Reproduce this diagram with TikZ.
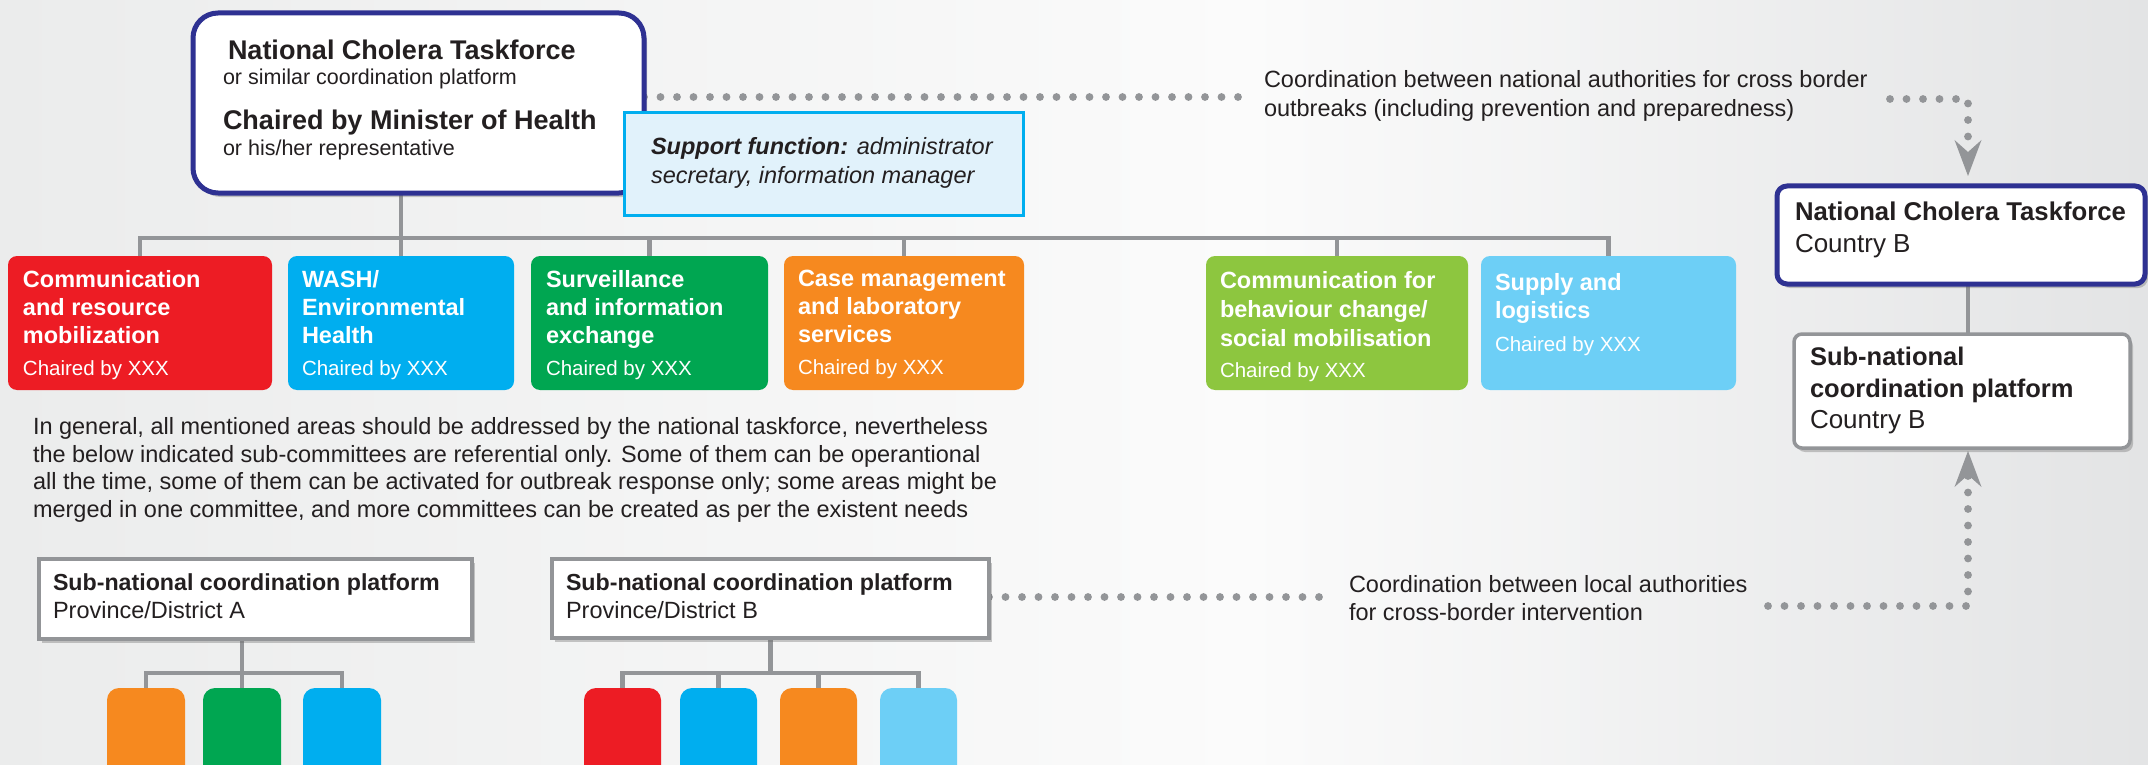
\documentclass[tikz,border=0pt]{standalone}
\usepackage{fontspec}
\setmainfont{Liberation Sans}
\usetikzlibrary{arrows.meta,shadows}
\definecolor{navy}{HTML}{2E3192}
\definecolor{treec}{HTML}{939598}
\definecolor{ink}{HTML}{231F20}
\definecolor{cRed}{HTML}{ED1C24}
\definecolor{cCyan}{HTML}{00AEEF}
\definecolor{cGreen}{HTML}{00A651}
\definecolor{cOrange}{HTML}{F6891F}
\definecolor{cLime}{HTML}{8DC63F}
\definecolor{cSky}{HTML}{6DCFF6}
\definecolor{supFill}{HTML}{E1F2FB}
\definecolor{bgL}{HTML}{EBECEC}
\definecolor{bgM}{HTML}{FBFBFB}
\definecolor{bgR}{HTML}{E3E4E5}
\pgfdeclarehorizontalshading{bgshade}{100bp}{color(0bp)=(bgL); color(25bp)=(bgL); color(54bp)=(bgM); color(75bp)=(bgR); color(100bp)=(bgR)}
\pgfdeclarelayer{back}
\pgfsetlayers{back,main}
\begin{document}
\begin{tikzpicture}[x=1pt,y=-1pt,
  box/.style={draw, anchor=north west, inner sep=0pt, outer sep=0pt},
  shd/.style={drop shadow={shadow xshift=3pt, shadow yshift=-4pt, opacity=0.35, fill=black!60}},
  navybox/.style={box, draw=navy, line width=5pt, fill=white, shd},
  greybox/.style={box, draw=treec, line width=3.5pt, fill=white, shd},
  cbox/.style={box, draw=none, rounded corners=9pt, minimum height=134pt},
  sbox/.style={box, draw=none, rounded corners=12pt, minimum height=110pt},
  treeline/.style={draw=treec, line width=4.5pt},
  dots/.style={draw=treec, line width=7.8pt, line cap=round, dash pattern=on 0pt off 16.5pt},
  tip/.style={-{Stealth[length=36pt, width=27pt, inset=12pt, line width=0pt, fill=treec]}},
  lbl/.style={anchor=base west, inner sep=0pt, outer sep=0pt, text=ink},
  fReg/.style={font=\fontsize{23.5}{28}\selectfont},
  fBold/.style={font=\bfseries\fontsize{23.5}{28}\selectfont},
  ctitle/.style={lbl, text=white, font=\bfseries\fontsize{23.5}{28}\selectfont},
  cchair/.style={lbl, text=white, font=\fontsize{20.5}{24}\selectfont},
]
\useasboundingbox (0,0) rectangle (2148,765);
\begin{pgfonlayer}{back}
\shade[shading=bgshade] (0,0) rectangle (2148,765);
\end{pgfonlayer}

% coordinates
\coordinate (busY) at (0,238);
\coordinate (barY) at (0,673);
\coordinate (dotTop) at (0,97);
\coordinate (dotBot) at (0,597);
\coordinate (colx) at (1968,0);
\coordinate (topL) at (1254,97);
\coordinate (topR) at (1890,99);
\coordinate (botL) at (1334,597);
\coordinate (botR) at (1768,606);

% main box
\node[navybox, rounded corners=25pt, minimum width=451pt, minimum height=180pt] (main) at (193,13) {};
\node[lbl, font=\bfseries\fontsize{27}{30}\selectfont] (m1) at (228,60) {National Cholera Taskforce};
\node[lbl, font=\fontsize{21.5}{26}\selectfont] (m2) at (223,85) {or similar coordination platform};
\node[lbl, font=\bfseries\fontsize{27}{30}\selectfont] (m3) at (223,130) {Chaired by Minister of Health};
\node[lbl, font=\fontsize{21.5}{26}\selectfont] (m4) at (223,156) {or his/her representative};

% support box
\node[box, draw=cCyan, line width=3pt, fill=supFill, minimum width=399pt, minimum height=102pt] (sup) at (624,113) {};
\node[lbl, fReg] (s1) at (651,155) {\itshape{\bfseries Support function:} administrator};
\node[lbl, fReg] (s2) at (651,183) {\itshape secretary, information manager};

% committee boxes
\node[cbox, fill=cRed, minimum width=264pt] (c1) at (8,256) {};
\node[cbox, fill=cCyan, minimum width=226pt] (c2) at (288,256) {};
\node[cbox, fill=cGreen, minimum width=237pt] (c3) at (531,256) {};
\node[cbox, fill=cOrange, minimum width=240pt] (c4) at (784,256) {};
\node[cbox, fill=cLime, minimum width=262pt] (c5) at (1206,256) {};
\node[cbox, fill=cSky, minimum width=255pt] (c6) at (1481,256) {};

\node[ctitle] (c1a) at (23,287) {Communication};
\node[ctitle] (c1b) at (23,315) {and resource};
\node[ctitle] (c1c) at (23,343) {mobilization};
\node[cchair] (c1d) at (23,375) {Chaired by XXX};

\node[ctitle] (c2a) at (302,287) {WASH/};
\node[ctitle] (c2b) at (302,315) {Environmental};
\node[ctitle] (c2c) at (302,343) {Health};
\node[cchair] (c2d) at (302,375) {Chaired by XXX};

\node[ctitle] (c3a) at (546,287) {Surveillance};
\node[ctitle] (c3b) at (546,315) {and information};
\node[ctitle] (c3c) at (546,343) {exchange};
\node[cchair] (c3d) at (546,375) {Chaired by XXX};

\node[ctitle] (c4a) at (798,286) {Case management};
\node[ctitle] (c4b) at (798,314) {and laboratory};
\node[ctitle] (c4c) at (798,342) {services};
\node[cchair] (c4d) at (798,374) {Chaired by XXX};

\node[ctitle] (c5a) at (1220,288) {Communication for};
\node[ctitle] (c5b) at (1220,317) {behaviour change/};
\node[ctitle] (c5c) at (1220,346) {social mobilisation};
\node[cchair] (c5d) at (1220,377) {Chaired by XXX};

\node[ctitle] (c6a) at (1495,290) {Supply and};
\node[ctitle] (c6b) at (1495,318) {logistics};
\node[cchair] (c6d) at (1495,351) {Chaired by XXX};

% paragraph
\node[lbl, fReg] (p1) at (33,434) {In general, all mentioned areas should be addressed by the national taskforce, nevertheless};
\node[lbl, fReg] (p2) at (33,462) {the below indicated sub-committees are referential only. Some of them can be operantional};
\node[lbl, fReg] (p3) at (33,489) {all the time, some of them can be activated for outbreak response only; some areas might be};
\node[lbl, fReg] (p4) at (33,517) {merged in one committee, and more committees can be created as per the existent needs};

% sub-national A and B
\node[greybox, minimum width=433pt, minimum height=80pt] (subA) at (39,559) {};
\node[lbl, font=\bfseries\fontsize{23.2}{28}\selectfont] (sa1) at (53,590) {Sub-national coordination platform};
\node[lbl, fReg] (sa2) at (53,618) {Province/District A};
\node[greybox, minimum width=437pt, minimum height=79pt] (subB) at (552,559) {};
\node[lbl, font=\bfseries\fontsize{23.2}{28}\selectfont] (sb1) at (566,590) {Sub-national coordination platform};
\node[lbl, fReg] (sb2) at (566,618) {Province/District B};

% small boxes
\node[sbox, fill=cOrange, minimum width=78pt] (a1) at (107,688) {};
\node[sbox, fill=cGreen, minimum width=78pt] (a2) at (203,688) {};
\node[sbox, fill=cCyan, minimum width=78pt] (a3) at (303,688) {};
\node[sbox, fill=cRed, minimum width=77pt] (b1) at (584,688) {};
\node[sbox, fill=cCyan, minimum width=77pt] (b2) at (680,688) {};
\node[sbox, fill=cOrange, minimum width=77pt] (b3) at (780,688) {};
\node[sbox, fill=cSky, minimum width=77pt] (b4) at (880,688) {};

% country B
\node[navybox, rounded corners=10pt, minimum width=368pt, minimum height=98pt] (cb) at (1777,186) {};
\node[lbl, font=\bfseries\fontsize{25.7}{30}\selectfont] (cb1) at (1795,220) {National Cholera Taskforce};
\node[lbl, font=\fontsize{26}{30}\selectfont] (cb2) at (1795,252) {Country B};
\node[greybox, rounded corners=8pt, minimum width=336pt, minimum height=114pt] (cbs) at (1794,334) {};
\node[lbl, font=\bfseries\fontsize{25.5}{30}\selectfont] (cbs1) at (1810,365) {Sub-national};
\node[lbl, font=\bfseries\fontsize{25.5}{30}\selectfont] (cbs2) at (1810,397) {coordination platform};
\node[lbl, font=\fontsize{26}{30}\selectfont] (cbs3) at (1810,428) {Country B};

% coordination texts
\node[lbl, fReg] (k1) at (1264,88) {Coordination between national authorities for cross border};
\node[lbl, fReg] (k2) at (1264,117) {outbreaks (including prevention and preparedness)};
\node[lbl, fReg] (k3) at (1349,592) {Coordination between local authorities};
\node[lbl, fReg] (k4) at (1349,620) {for cross-border intervention};

% connectors (behind boxes)
\begin{pgfonlayer}{back}
\draw[treeline] (c2.north) -- (c2.north |- main.south);
\draw[treeline] (c1.north) |- (c6.north |- busY) -- (c6.north);
\foreach \n in {c3,c4,c5} \draw[treeline] (\n.north) -- (\n.north |- busY);
\draw[treeline] (a2.north) -- (a2.north |- subA.south);
\draw[treeline] (a1.north) |- (a3.north |- barY) -- (a3.north);
\draw[treeline] (subB.south) -- (subB.south |- barY);
\draw[treeline] (b1.north) |- (b4.north |- barY) -- (b4.north);
\foreach \n in {b2,b3} \draw[treeline] (\n.north) -- (\n.north |- barY);
\draw[treeline] (cb.south -| colx) -- (cbs.north -| colx);
\draw[dots] (main.east |- dotTop) -- (topL);
\draw[dots, tip, shorten >=10pt] (topR) -| (cb.north -| colx);
\draw[dots] (subB.east |- dotBot) -- (botL);
\draw[dots, tip, shorten >=3pt] (botR) -| (cbs.south -| colx);
\end{pgfonlayer}
\end{tikzpicture}
\end{document}
